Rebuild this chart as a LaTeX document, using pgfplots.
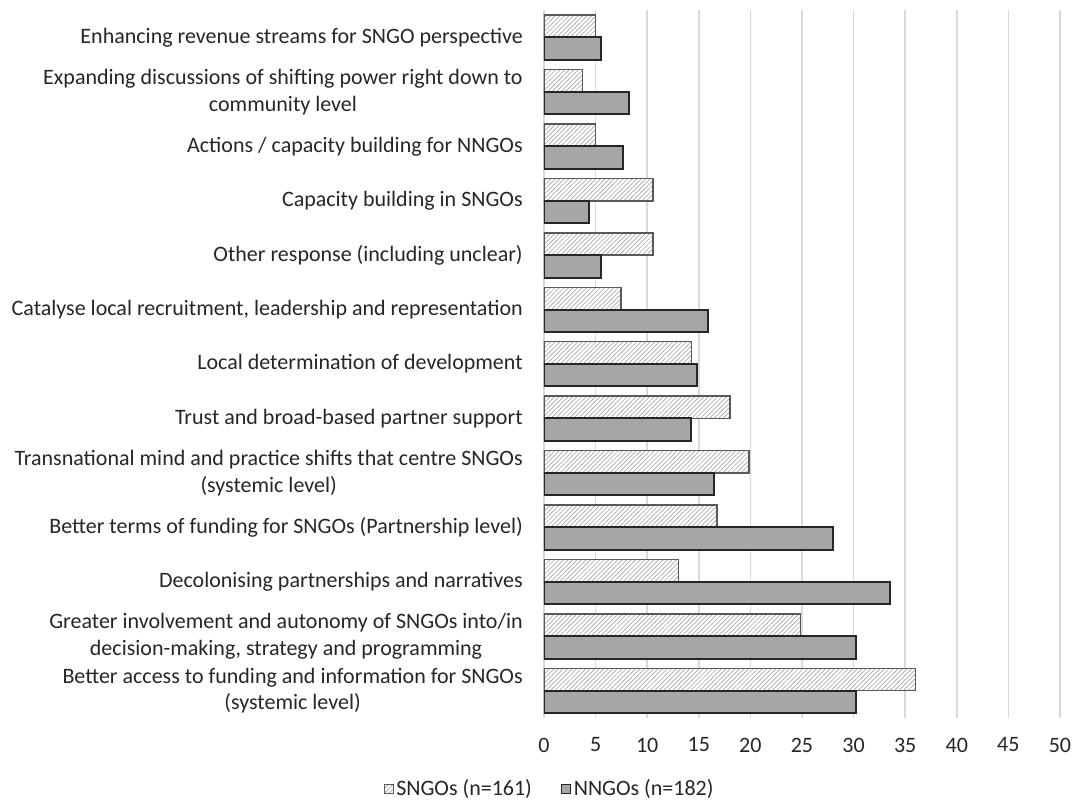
\documentclass[border=0pt]{standalone}
\usepackage{fontspec}
\setmainfont{Carlito}
\usepackage{pgfplots}
\pgfplotsset{compat=1.18}
\usetikzlibrary{patterns.meta}

\definecolor{gridgray}{HTML}{D9D9D9}
\definecolor{nfill}{HTML}{A6A6A8}
\definecolor{nedge}{HTML}{262626}
\definecolor{sedge}{HTML}{595959}
\definecolor{hatch}{HTML}{A8A8A8}

\newcommand{\lblfont}{\fontsize{16.5}{20}\selectfont}

% Share of respondents (%) naming each theme, by group
\pgfplotstableread{
row sngo  nngo
0   4.97  5.49
1   3.73  8.24
2   4.97  7.69
3   10.56 4.40
4   10.56 5.49
5   7.45  15.93
6   14.29 14.84
7   18.01 14.29
8   19.88 16.48
9   16.77 28.02
10  13.04 33.52
11  24.84 30.22
12  36.02 30.22
}\themes

\begin{document}
\begin{tikzpicture}
\begin{axis}[
  scale only axis,
  width=387pt, height=530.7pt,
  xbar, bar width=0.41,
  y dir=reverse,
  xmin=0, xmax=50, ymin=-0.5, ymax=12.5,
  xtick={0,5,...,50},
  ytick={0,...,12},
  yticklabels={
    {Enhancing revenue streams for SNGO perspective},
    {Expanding discussions of shifting power right down to\\community level},
    {Actions / capacity building for NNGOs},
    {Capacity building in SNGOs},
    {Other response (including unclear)},
    {Catalyse local recruitment, leadership and representation},
    {Local determination of development},
    {Trust and broad-based partner support},
    {Transnational mind and practice shifts that centre SNGOs\\(systemic level)},
    {Better terms of funding for SNGOs (Partnership level)},
    {Decolonising partnerships and narratives},
    {Greater involvement and autonomy of SNGOs into/in\\decision-making, strategy and programming},
    {Better access to funding and information for SNGOs\\(systemic level)}
  },
  yticklabel style={font=\lblfont, align=center, anchor=east, inner sep=0pt, xshift=-15.75pt, text=black!85},
  xticklabel style={font=\lblfont, anchor=center, inner sep=0pt, yshift=-20.3pt, text=black!85},
  /pgf/number format/assume math mode=true,
  major tick length=0pt,
  tick style={draw=none},
  axis line style={draw=none},
  xmajorgrids,
  major grid style={draw=gridgray, line width=1.1pt},
  legend style={draw=none, fill=none, font=\lblfont, text=black!85, at={(0.0116,-0.1003)}, anchor=center,
    legend columns=2, inner sep=0pt,
    /tikz/every even column/.append style={column sep=20pt},
    /tikz/every odd column/.append style={column sep=0pt}},
  legend cell align=left,
  legend image code/.code={\draw[#1, line width=0.6pt] (0pt,-3.4pt) rectangle (6.8pt,3.4pt);},
]
\addplot[bar shift=-0.205, draw=sedge, line width=1.1pt, fill=white,
  postaction={pattern={Lines[angle=45, distance=2.4pt, line width=0.5pt]}, pattern color=hatch}]
  table[x=sngo, y=row] {\themes};
\addlegendentry{SNGOs (n=161)}
\addplot[bar shift=0.205, draw=nedge, line width=1.5pt, fill=nfill]
  table[x=nngo, y=row] {\themes};
\addlegendentry{NNGOs (n=182)}
\end{axis}
\pgfresetboundingbox
\path (current axis.south west) ++(-408pt,-63.1pt) rectangle ++(804pt,601.5pt);
\end{tikzpicture}
\end{document}
